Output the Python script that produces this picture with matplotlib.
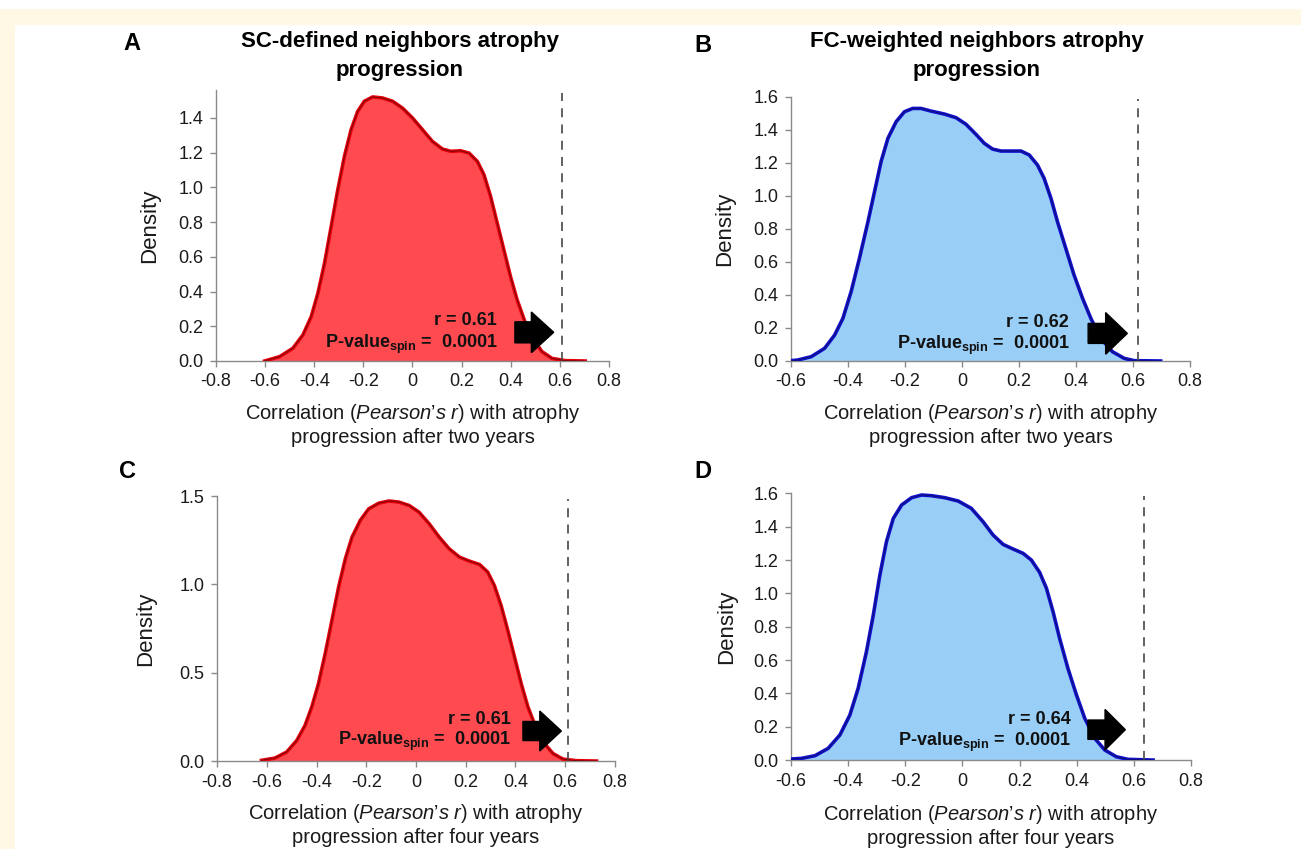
import matplotlib
matplotlib.use("Agg")
import matplotlib.pyplot as plt
from matplotlib.patches import FancyArrow, Rectangle

plt.rcParams['font.family'] = ['Liberation Sans', 'DejaVu Sans']
plt.rcParams['mathtext.fontset'] = 'custom'
plt.rcParams['mathtext.rm'] = 'Liberation Sans'
plt.rcParams['mathtext.it'] = 'Liberation Sans:italic'
plt.rcParams['mathtext.bf'] = 'Liberation Sans:bold'

# ---- data ----
# A: SC-defined neighbours, two years
sc2_x = [-0.602, -0.541, -0.487, -0.446, -0.412, -0.385, -0.358, -0.331, -0.304, -0.277,
         -0.250, -0.223, -0.196, -0.162, -0.122, -0.081, -0.041, 0.0, 0.041, 0.081,
         0.122, 0.156, 0.196, 0.230, 0.264, 0.291, 0.318, 0.345, 0.372, 0.399,
         0.426, 0.460, 0.494, 0.527, 0.568, 0.622, 0.703]
sc2_y = [0.0, 0.025, 0.073, 0.150, 0.256, 0.39, 0.563, 0.774, 0.986, 1.178,
         1.331, 1.437, 1.495, 1.520, 1.514, 1.495, 1.456, 1.399, 1.331, 1.264,
         1.220, 1.207, 1.210, 1.197, 1.149, 1.072, 0.947, 0.793, 0.640, 0.486,
         0.352, 0.217, 0.121, 0.054, 0.015, 0.002, 0.0]

# B: FC-weighted neighbours, two years
fc2_x = [-0.60, -0.576, -0.529, -0.482, -0.447, -0.418, -0.389, -0.360, -0.330, -0.307,
         -0.284, -0.260, -0.231, -0.202, -0.173, -0.144, -0.109, -0.062, -0.021, 0.014,
         0.049, 0.078, 0.107, 0.137, 0.172, 0.207, 0.236, 0.265, 0.288, 0.312,
         0.335, 0.364, 0.393, 0.423, 0.452, 0.487, 0.528, 0.569, 0.604, 0.697]
fc2_y = [0.002, 0.006, 0.026, 0.077, 0.157, 0.258, 0.420, 0.621, 0.843, 1.025,
         1.207, 1.348, 1.449, 1.509, 1.529, 1.529, 1.513, 1.495, 1.473, 1.433,
         1.372, 1.318, 1.283, 1.271, 1.271, 1.271, 1.247, 1.186, 1.106, 0.985,
         0.843, 0.682, 0.521, 0.379, 0.258, 0.137, 0.056, 0.016, 0.002, 0.0]

# C: SC-defined neighbours, four years
sc4_x = [-0.621, -0.567, -0.520, -0.479, -0.446, -0.419, -0.392, -0.365, -0.338, -0.311,
         -0.284, -0.257, -0.224, -0.190, -0.149, -0.109, -0.069, -0.028, 0.012, 0.053,
         0.093, 0.133, 0.174, 0.214, 0.255, 0.288, 0.315, 0.342, 0.369, 0.396,
         0.423, 0.450, 0.484, 0.517, 0.551, 0.591, 0.645, 0.726]
sc4_y = [0.004, 0.017, 0.051, 0.117, 0.202, 0.306, 0.438, 0.608, 0.796, 0.985,
         1.145, 1.268, 1.362, 1.428, 1.460, 1.472, 1.466, 1.447, 1.409, 1.343,
         1.268, 1.202, 1.155, 1.132, 1.113, 1.070, 0.994, 0.881, 0.740, 0.589,
         0.438, 0.306, 0.183, 0.098, 0.042, 0.011, 0.002, 0.0]

# D: FC-weighted neighbours, four years
fc4_x = [-0.60, -0.563, -0.516, -0.470, -0.429, -0.394, -0.365, -0.336, -0.312, -0.289,
         -0.266, -0.242, -0.213, -0.178, -0.143, -0.108, -0.062, -0.015, 0.031, 0.072,
         0.107, 0.142, 0.177, 0.212, 0.241, 0.270, 0.294, 0.317, 0.340, 0.369,
         0.399, 0.428, 0.463, 0.498, 0.538, 0.579, 0.667]
fc4_y = [0.006, 0.010, 0.026, 0.07, 0.15, 0.27, 0.43, 0.65, 0.87, 1.11,
         1.31, 1.45, 1.53, 1.574, 1.59, 1.586, 1.574, 1.554, 1.51, 1.43,
         1.35, 1.294, 1.266, 1.24, 1.20, 1.126, 1.03, 0.89, 0.73, 0.55,
         0.39, 0.25, 0.13, 0.06, 0.02, 0.004, 0.0]

observed_r = [0.61, 0.62, 0.61, 0.64]
observed_line = [0.61, 0.618, 0.611, 0.637]
p_spin = ['0.0001', '0.0001', '0.0001', '0.0001']
letters = ['A', 'B', 'C', 'D']
titles = ['SC-defined neighbors atrophy\nprogression',
          'FC-weighted neighbors atrophy\nprogression']
xlabels = ["Correlation ($\\mathit{Pearson’s\\ r}$) with atrophy\nprogression after two years",
           "Correlation ($\\mathit{Pearson’s\\ r}$) with atrophy\nprogression after two years",
           "Correlation ($\\mathit{Pearson’s\\ r}$) with atrophy\nprogression after four years",
           "Correlation ($\\mathit{Pearson’s\\ r}$) with atrophy\nprogression after four years"]

# ---- layout / style ----
RED_FILL, RED_LINE = '#FF4A50', '#E8000B'
BLUE_FILL, BLUE_LINE = '#99CFF7', '#1010D0'
AX_COL = '#8a8a8a'

panels = [
    dict(x=sc2_x, y=sc2_y, fill=RED_FILL, line=RED_LINE, inner='#5a0a0a',
         rect=[0.1660, 0.5748, 0.3021, 0.3192], xlim=(-0.8, 0.8), ylim=(0, 1.56),
         xt=[-0.8, -0.6, -0.4, -0.2, 0, 0.2, 0.4, 0.6, 0.8],
         yt=[0, 0.2, 0.4, 0.6, 0.8, 1.0, 1.2, 1.4],
         arrow=(0.417, 0.484, 0.575, 0.165, 0.121, 0.234), txt=(0.345, 0.2075, 0.073),
         ylab=(-0.142, 0.5), xlab=(0.5, -0.152)),
    dict(x=fc2_x, y=fc2_y, fill=BLUE_FILL, line=BLUE_LINE, inner='#10105a',
         rect=[0.608, 0.5748, 0.3067, 0.3113], xlim=(-0.6, 0.8), ylim=(0, 1.6),
         xt=[-0.6, -0.4, -0.2, 0, 0.2, 0.4, 0.6, 0.8],
         yt=[0, 0.2, 0.4, 0.6, 0.8, 1.0, 1.2, 1.4, 1.6],
         arrow=(0.4425, 0.504, 0.58, 0.167, 0.121, 0.252), txt=(0.376, 0.204, 0.0726),
         ylab=(-0.140, 0.5), xlab=(0.5, -0.157)),
    dict(x=sc4_x, y=sc4_y, fill=RED_FILL, line=RED_LINE, inner='#5a0a0a',
         rect=[0.1668, 0.1036, 0.3059, 0.3121], xlim=(-0.8, 0.8), ylim=(0, 1.5),
         xt=[-0.8, -0.6, -0.4, -0.2, 0, 0.2, 0.4, 0.6, 0.8],
         yt=[0, 0.5, 1.0, 1.5],
         arrow=(0.43, 0.4977, 0.5845, 0.17, 0.108, 0.226), txt=(0.3825, 0.211, 0.089),
         ylab=(-0.154, 0.5), xlab=(0.5, -0.155)),
    dict(x=fc4_x, y=fc4_y, fill=BLUE_FILL, line=BLUE_LINE, inner='#10105a',
         rect=[0.608, 0.1048, 0.3075, 0.3141], xlim=(-0.6, 0.8), ylim=(0, 1.6),
         xt=[-0.6, -0.4, -0.2, 0, 0.2, 0.4, 0.6, 0.8],
         yt=[0, 0.2, 0.4, 0.6, 0.8, 1.0, 1.2, 1.4, 1.6],
         arrow=(0.439, 0.499, 0.57, 0.182, 0.116, 0.243), txt=(0.378, 0.215, 0.082),
         ylab=(-0.135, 0.5), xlab=(0.5, -0.16)),
]


def xfmt(v):
    if abs(v) < 1e-9:
        return '0'
    return '{:.1f}'.format(v)


fig = plt.figure(figsize=(13.01, 8.49), dpi=100, facecolor='white')

# cream page border
fig.patches.append(Rectangle((0, 1 - 25 / 849), 1, 16 / 849, transform=fig.transFigure,
                             facecolor='#FEF8E4', edgecolor='none', zorder=0))
fig.patches.append(Rectangle((0, 0), 15 / 1301, 1 - 25 / 849, transform=fig.transFigure,
                             facecolor='#FEF8E4', edgecolor='none', zorder=0))

for i, p in enumerate(panels):
    ax = fig.add_axes(p['rect'])
    ax.fill_between(p['x'], p['y'], 0, color=p['fill'], linewidth=0, zorder=2)
    ax.plot(p['x'], p['y'], color=p['line'], linewidth=2.6, solid_joinstyle='round', zorder=3)
    ax.plot(p['x'], p['y'], color=p['inner'], linewidth=0.7, alpha=0.8,
            solid_joinstyle='round', zorder=4)

    ax.plot([observed_line[i], observed_line[i]], [0, p['ylim'][1] * 0.99],
            color='#555555', linewidth=1.3, dashes=(5, 4), zorder=3)

    x0, xb, xt_, yc, bw, hw = p['arrow']
    ax.add_patch(FancyArrow(x0, yc, xt_ - x0, 0, width=bw, head_width=hw,
                            head_length=xt_ - xb, length_includes_head=True,
                            facecolor='black', edgecolor='black', zorder=6))

    tx, y1, y2 = p['txt']
    ax.text(tx, y1, 'r = {:.2f}'.format(observed_r[i]), ha='right', va='baseline',
            fontsize=13, fontweight='bold', color='#111111', zorder=7)
    ax.text(tx, y2, 'P-value$_{\\mathbf{spin}}$ =  ' + p_spin[i], ha='right', va='baseline',
            fontsize=13, fontweight='bold', color='#111111', zorder=7)

    ax.set_xlim(*p['xlim'])
    ax.set_ylim(*p['ylim'])
    ax.set_xticks(p['xt'])
    ax.set_xticklabels([xfmt(v) for v in p['xt']])
    ax.set_yticks(p['yt'])
    ax.set_yticklabels(['{:.1f}'.format(v) for v in p['yt']])
    for s in ['top', 'right']:
        ax.spines[s].set_visible(False)
    for s in ['left', 'bottom']:
        ax.spines[s].set_color(AX_COL)
        ax.spines[s].set_linewidth(1.0)
    ax.tick_params(axis='both', direction='out', length=4, width=1, color=AX_COL,
                   labelsize=13, labelcolor='#1a1a1a', pad=5)
    ax.set_facecolor('none')

    ax.set_ylabel('Density', fontsize=16, color='#1a1a1a')
    ax.yaxis.set_label_coords(*p['ylab'])
    ax.set_xlabel(xlabels[i], fontsize=14.5, color='#1a1a1a', linespacing=1.2)
    ax.xaxis.set_label_coords(*p['xlab'])

# titles and panel letters
fig.text(400 / 1301, 1 - 56 / 849, titles[0], ha='center', va='center', fontsize=16,
         fontweight='bold', linespacing=1.5)
fig.text(977 / 1301, 1 - 56 / 849, titles[1], ha='center', va='center', fontsize=16,
         fontweight='bold', linespacing=1.5)
for lt, (lx, ly) in zip(letters, [(132, 44), (703, 45), (127, 472), (703, 472)]):
    fig.text(lx / 1301, 1 - ly / 849, lt, ha='center', va='center', fontsize=17,
             fontweight='bold')

fig.savefig('out.png', dpi=100, facecolor='white')
